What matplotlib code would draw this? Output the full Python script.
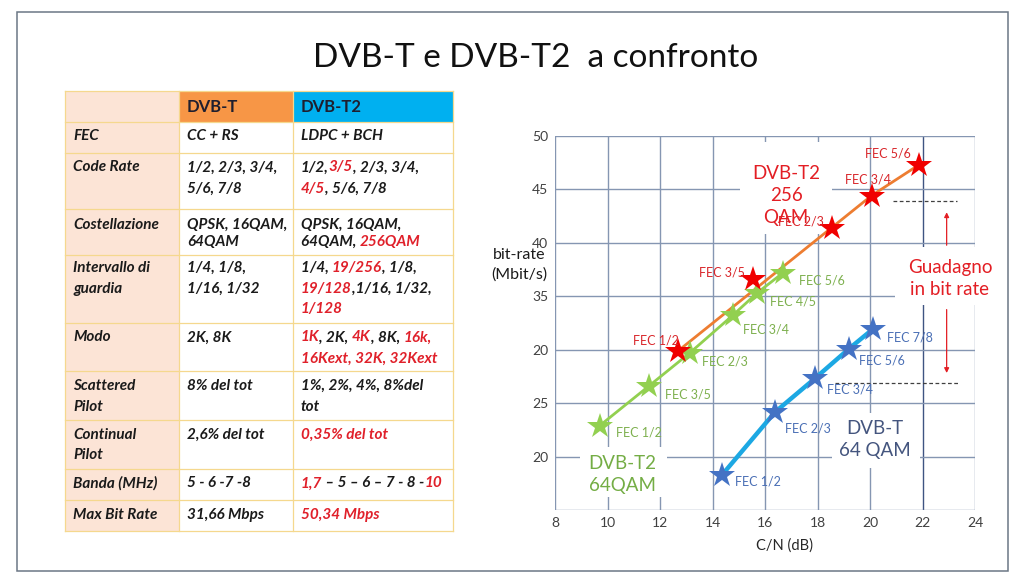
import matplotlib
matplotlib.use("Agg")
import matplotlib.pyplot as plt
from matplotlib.patches import Rectangle
import numpy as np

plt.rcParams['font.family'] = ['Lato', 'DejaVu Sans']

W, H = 1024, 576

# ---------------- data ----------------
title = "DVB-T e DVB-T2  a confronto"

table_header = ["", "DVB-T", "DVB-T2"]
row_labels = ["FEC", "Code Rate", "Costellazione", "Intervallo di\nguardia", "Modo",
              "Scattered\nPilot", "Continual\nPilot", "Banda (MHz)", "Max Bit Rate"]
dvbt_vals = ["CC + RS", "1/2, 2/3, 3/4,\n5/6, 7/8", "QPSK, 16QAM,\n64QAM", "1/4, 1/8,\n1/16, 1/32",
             "2K, 8K", "8% del tot", "2,6% del tot", "5 - 6 -7 -8", "31,66 Mbps"]
# {...} marks red text
dvbt2_vals = ["LDPC + BCH", "1/2,{3/5}, 2/3, 3/4,\n{4/5}, 5/6, 7/8", "QPSK, 16QAM,\n64QAM, {256QAM}",
              "1/4, {19/256}, 1/8,\n{19/128},1/16, 1/32,\n{1/128}",
              "{1K}, 2K, {4K}, 8K, {16k,}\n{16Kext, 32K, 32Kext}", "1%, 2%, 4%, 8%del\ntot",
              "{0,35% del tot}", "{1,7} – 5 – 6 – 7 - 8 -{10}", "{50,34 Mbps}"]

# chart series (C/N dB, bit-rate on the chart's own scale)
t2_256_cn = [12.70, 15.55, 18.54, 20.06, 21.88]
t2_256_br = [29.9, 36.6, 41.4, 44.4, 47.3]
t2_256_fec = ["FEC 1/2", "FEC 3/5", "FEC 2/3", "FEC 3/4", "FEC 5/6"]
t2_256_on_line = [True, False, True, True, True]

t2_64_cn = [9.71, 11.58, 13.14, 14.77, 15.70, 16.70]
t2_64_br = [22.9, 26.6, 29.7, 33.2, 35.3, 37.2]
t2_64_fec = ["FEC 1/2", "FEC 3/5", "FEC 2/3", "FEC 3/4", "FEC 4/5", "FEC 5/6"]

t_64_cn = [14.37, 16.38, 17.90, 19.21, 20.10]
t_64_br = [18.3, 24.15, 27.3, 30.1, 31.9]
t_64_fec = ["FEC 1/2", "FEC 2/3", "FEC 3/4", "FEC 5/6", "FEC 7/8"]

x_ticks = [8, 10, 12, 14, 16, 18, 20, 22, 24]
y_ticks = [20, 25, 30, 35, 40, 45, 50]
y_tick_labels = ["20", "25", "20", "35", "40", "45", "50"]

gain_levels = [43.9, 26.9]

# ---------------- figure ----------------
fig = plt.figure(figsize=(W / 100, H / 100), dpi=100)
fig.patch.set_facecolor('white')


def fx(x):
    return x / W


def fy(y):
    return 1 - y / H


# slide border
fig.add_artist(Rectangle((fx(17), fy(571)), (1008 - 17) / W, (571 - 12) / H, transform=fig.transFigure,
                         fill=False, edgecolor='#6B7785', lw=1.1))

fig.text(fx(536), fy(58), title, ha='center', va='center', fontsize=24, color='#111111')

# ---------------- table ----------------
col_x = [65, 179, 292.7, 453]
row_y = [91, 121.5, 152.7, 209, 255, 322.7, 371, 420, 468.5, 500, 530.7]
first_off = [15, 14.7, 16, 12.7, 14.6, 15, 15, 14.8, 15]
line_sp = [21, 21.3, 16.7, 20.8, 21, 20.7, 20, 21, 21]

PEACH = '#FCE4D6'
GOLD = '#F5D88E'
RED = '#E0202A'
BLK = '#1A1A1A'


def rect_px(x0, y0, x1, y1, fc, ec='none', lw=0, z=1):
    fig.add_artist(Rectangle((fx(x0), fy(y1)), (x1 - x0) / W, (y1 - y0) / H, transform=fig.transFigure,
                             facecolor=fc, edgecolor=ec, lw=lw, zorder=z))


nrows = len(row_y) - 1
for r in range(nrows):
    y0, y1 = row_y[r], row_y[r + 1]
    rect_px(col_x[0], y0, col_x[1], y1, PEACH)
    if r == 0:
        rect_px(col_x[1], y0, col_x[2], y1, '#F79646')
        rect_px(col_x[2], y0, col_x[3], y1, '#00B0F0')
    else:
        rect_px(col_x[1], y0, col_x[3], y1, 'white')

for y in row_y:
    fig.add_artist(plt.Line2D([fx(col_x[0]), fx(col_x[3])], [fy(y), fy(y)], transform=fig.transFigure,
                              color=GOLD, lw=0.9, zorder=2))
for x in col_x:
    fig.add_artist(plt.Line2D([fx(x), fx(x)], [fy(row_y[0]), fy(row_y[-1])], transform=fig.transFigure,
                              color=GOLD, lw=0.9, zorder=2))

renderer = fig.canvas.get_renderer()


def text_width(s, **kw):
    t1 = fig.text(0, 0, "|" + s + "|", **kw)
    t2 = fig.text(0, 0, "||", **kw)
    w = t1.get_window_extent(renderer).width - t2.get_window_extent(renderer).width
    t1.remove()
    t2.remove()
    return w


def parse(s):
    segs, buf, red = [], "", False
    for ch in s:
        if ch == '{':
            if buf:
                segs.append((buf, False))
            buf, red = "", True
        elif ch == '}':
            segs.append((buf, True))
            buf, red = "", False
        else:
            buf += ch
    if buf:
        segs.append((buf, red))
    return segs


def draw_rich(x, y, line, **kw):
    for seg, red in parse(line):
        fig.text(fx(x), fy(y), seg, color=RED if red else BLK, ha='left', va='center', zorder=5, **kw)
        x += text_width(seg, **kw)


tkw = dict(fontsize=11, fontweight='bold', fontstyle='italic')
pad = 8
# header
fig.text(fx(col_x[1] + pad), fy(106.5), table_header[1], fontsize=12, fontweight='bold', color='#1F1F2F',
         va='center', ha='left', zorder=5)
fig.text(fx(col_x[2] + pad), fy(106.5), table_header[2], fontsize=12, fontweight='bold', color='#1F1F2F',
         va='center', ha='left', zorder=5)

for i in range(len(row_labels)):
    top = row_y[i + 1]
    for c, txt in enumerate([row_labels[i], dvbt_vals[i], dvbt2_vals[i]]):
        lines = txt.split("\n")
        for k, ln in enumerate(lines):
            yy = top + first_off[i] + k * line_sp[i]
            draw_rich(col_x[c] + pad, yy, ln, **tkw)

# ---------------- chart ----------------
ax = fig.add_axes([fx(555), fy(510), 420 / W, (510 - 135.7) / H])
ax.set_xlim(8, 24)
ax.set_ylim(15, 50)
for s in ax.spines.values():
    s.set_visible(False)
ax.set_facecolor('none')

GRID = '#8596B2'
for xv in x_ticks:
    ax.axvline(xv, color='#3F5482' if xv == 22 else GRID, lw=1.0, zorder=1)
for yv in [15] + y_ticks:
    ax.axhline(yv, color=GRID, lw=1.0, zorder=1)

ax.set_xticks(x_ticks)
ax.set_xticklabels([str(v) for v in x_ticks])
ax.set_yticks(y_ticks)
ax.set_yticklabels(y_tick_labels)
ax.tick_params(length=0, labelsize=10, labelcolor='#404040')
ax.tick_params(axis='x', pad=5)
ax.tick_params(axis='y', pad=5)


def px2data(px, py):
    return 8 + (px - 555) / 26.25, 15 + (510 - py) / 10.68


def white_box(x0, y0, x1, y1):
    a0, b1 = px2data(x0, y0)
    a1, b0 = px2data(x1, y1)
    ax.add_patch(Rectangle((a0, b0), a1 - a0, b1 - b0, facecolor='white', edgecolor='none', zorder=1.5))


white_box(740, 142, 832, 234)
white_box(895, 247, 1004, 305)
white_box(832, 413, 920, 468)
white_box(580, 447, 667, 497)

# lines
lx = [x for x, on in zip(t2_256_cn, t2_256_on_line) if on]
ly = [y for y, on in zip(t2_256_br, t2_256_on_line) if on]
ax.plot(lx, ly, color='#ED7D31', lw=2, zorder=2, solid_capstyle='round')
ax.plot(t2_64_cn, t2_64_br, color='#92D050', lw=2, zorder=2)
ax.plot(t_64_cn, t_64_br, color='#1CA8E3', lw=3.2, zorder=2)

ax.plot(t2_64_cn, t2_64_br, ls='none', marker='*', ms=19, color='#92D050', mew=0, zorder=3)
ax.plot(t2_256_cn, t2_256_br, ls='none', marker='*', ms=19, color='#F00000', mew=0, zorder=3.1)
ax.plot(t_64_cn, t_64_br, ls='none', marker='*', ms=19, color='#4472C4', mew=0, zorder=3)

# FEC labels (pixel positions of label left edge / center y)
lab_kw = dict(fontsize=9, va='center', ha='left', zorder=4)
green_lab_pos = [(616, 432.7), (665, 394.3), (702.3, 361.7), (743.3, 329.3), (770, 301.7), (799.3, 281)]
red_lab_pos = [(632.7, 340.7), (699.3, 273.3), (778, 221.7), (845, 180), (865, 154.3)]
blue_lab_pos = [(735, 481.7), (785, 429), (827.3, 390), (859, 361), (886.7, 337.7)]
for lab, (px, py) in zip(t2_64_fec, green_lab_pos):
    ax.text(*px2data(px, py), lab, color='#7DB04E', **lab_kw)
for lab, (px, py) in zip(t2_256_fec, red_lab_pos):
    ax.text(*px2data(px, py), lab, color='#D9262B', **lab_kw)
for lab, (px, py) in zip(t_64_fec, blue_lab_pos):
    ax.text(*px2data(px, py), lab, color='#4A6FB5', **lab_kw)

big_kw = dict(fontsize=13.5, ha='center', va='center', zorder=5, linespacing=1.35)
ax.text(*px2data(786, 196), "DVB-T2\n256\nQAM", color='#E31E24', **big_kw)
ax.text(*px2data(875, 440), "DVB-T\n64 QAM", color='#44557E', **big_kw)
ax.text(*px2data(622, 474.5), "DVB-T2\n64QAM", color='#74AD45', **big_kw)
ax.text(*px2data(950, 279), "Guadagno\nin bit rate", color='#E31E24', **big_kw)

# dashed reference lines for the gain
ax.plot([20.88, 23.31], [gain_levels[0]] * 2, ls=(0, (3, 2)), color='#404040', lw=0.9, zorder=2)
ax.plot([18.67, 23.43], [gain_levels[1]] * 2, ls=(0, (3, 2)), color='#404040', lw=0.9, zorder=2)
ax.annotate('', xy=(22.92, 43.1), xytext=(22.92, 39.5),
            arrowprops=dict(arrowstyle='-|>', color='#E31E24', lw=0.9, mutation_scale=7), zorder=4)
ax.annotate('', xy=(22.92, 27.55), xytext=(22.92, 34.0),
            arrowprops=dict(arrowstyle='-|>', color='#E31E24', lw=0.9, mutation_scale=7), zorder=4)

fig.text(fx(519), fy(265), "bit-rate\n(Mbit/s)", fontsize=11.5, ha='center', va='center', color='#1A1A1A',
         linespacing=1.5)
fig.text(fx(785), fy(546), "C/N (dB)", fontsize=10.5, ha='center', va='center', color='#262626')

fig.savefig("out.png", dpi=100, facecolor='white')
